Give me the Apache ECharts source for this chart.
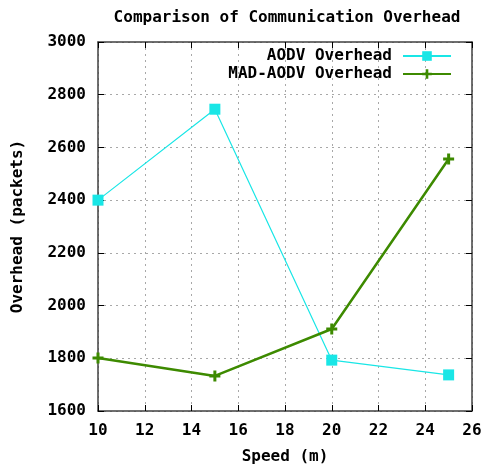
<!DOCTYPE html>
<html><head><meta charset="utf-8">
<script src="https://cdn.jsdelivr.net/npm/echarts@6/dist/echarts.min.js"></script>
<style>html,body{margin:0;padding:0;background:#fff}#c{width:489px;height:470px}</style>
</head><body><div id="c"></div>
<script>
const speeds = [10, 15, 20, 25];
const aodvOverhead = [2400, 2745, 1793, 1737];
const madAodvOverhead = [1801, 1733, 1911, 2556];
const seriesNames = ['AODV Overhead', 'MAD-AODV Overhead'];
const titleText = 'Comparison of Communication Overhead';
const xName = 'Speed (m)';
const yName = 'Overhead (packets)';

const FONT = 'DejaVu Sans Mono';
const txt = {fontFamily: FONT, fontWeight: 'bold', fontSize: 16, color: '#000'};
const plus = 'path://M4,0h3v11h-3zM0,4h11v3h-11z';

const chart = echarts.init(document.getElementById('c'), null, {renderer: 'canvas'});
const axisLine = {show: true, lineStyle: {color: '#404040', width: 1.5}};
const split = {show: true, lineStyle: {color: '#a8a8a8', type: [2, 4], width: 1}};
chart.setOption({
  animation: false,
  backgroundColor: '#fff',
  title: {text: titleText, left: 282, textAlign: 'center', top: 5,
    textStyle: Object.assign({}, txt, {fontSize: 16})},
  legend: [
    {data: [seriesNames[0]], orient: 'vertical', right: 32, top: 43, align: 'right',
      itemWidth: 48, itemHeight: 12, textStyle: Object.assign({}, txt, {padding: [0, 6, 0, 0]})},
    {data: [seriesNames[1]], orient: 'vertical', right: 32, top: 61, align: 'right',
      itemWidth: 48, itemHeight: 12, textStyle: Object.assign({}, txt, {padding: [0, 6, 0, 0]})}
  ],
  grid: {left: 98, right: 17, top: 42, bottom: 59, containLabel: false},
  xAxis: [
    {type: 'value', min: 10, max: 26, interval: 2, position: 'bottom',
      name: xName, nameLocation: 'middle', nameGap: 38, nameTextStyle: txt,
      axisLine: axisLine, axisTick: {show: true, inside: true, length: 6, lineStyle: {color: '#000'}},
      axisLabel: Object.assign({}, txt, {margin: 12}), splitLine: split},
    {type: 'value', min: 10, max: 26, interval: 2, position: 'top',
      axisLine: axisLine, axisTick: {show: true, inside: true, length: 6, lineStyle: {color: '#000'}},
      axisLabel: {show: false}, splitLine: {show: false}}
  ],
  yAxis: [
    {type: 'value', min: 1600, max: 3000, interval: 200, position: 'left',
      name: yName, nameLocation: 'middle', nameGap: 72, nameRotate: 90, nameTextStyle: txt,
      axisLine: axisLine, axisTick: {show: true, inside: true, length: 6, lineStyle: {color: '#000'}},
      axisLabel: Object.assign({}, txt, {margin: 12, formatter: v => String(v)}), splitLine: split},
    {type: 'value', min: 1600, max: 3000, interval: 200, position: 'right',
      axisLine: axisLine, axisTick: {show: true, inside: true, length: 6, lineStyle: {color: '#000'}},
      axisLabel: {show: false}, splitLine: {show: false}}
  ],
  series: [
    {name: seriesNames[0], type: 'line', data: speeds.map((s, i) => [s, aodvOverhead[i]]),
      symbol: 'rect', symbolSize: 11, showSymbol: true,
      lineStyle: {color: '#19e6e6', width: 1.2}, itemStyle: {color: '#19e6e6'}},
    {name: seriesNames[1], type: 'line', data: speeds.map((s, i) => [s, madAodvOverhead[i]]),
      symbol: plus, symbolSize: 11, showSymbol: true,
      lineStyle: {color: '#3d8a00', width: 2.5}, itemStyle: {color: '#3d8a00'}}
  ]
});
</script></body></html>
